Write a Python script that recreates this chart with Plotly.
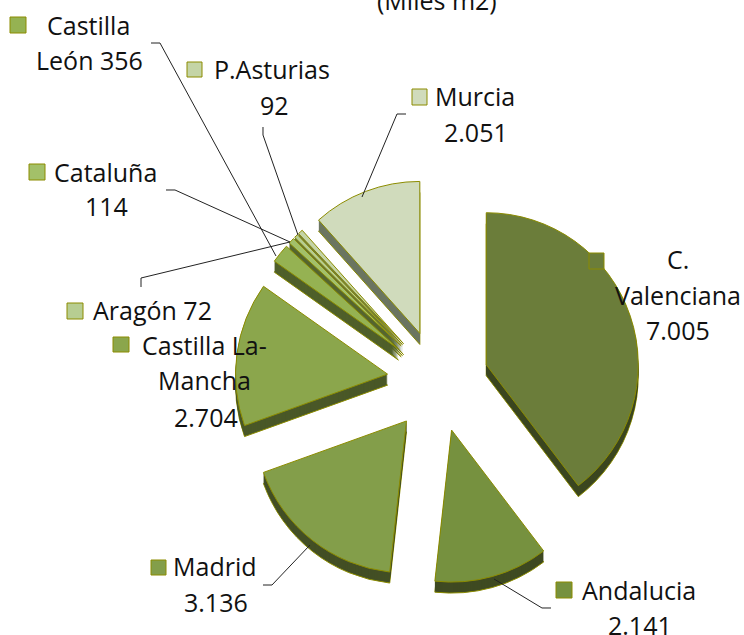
import plotly.graph_objects as go

W, H = 744, 635

regions = ["C. Valenciana", "Andalucia", "Madrid", "Castilla La-Mancha", "Castilla León",
           "Cataluña", "Aragón", "P.Asturias", "Murcia"]
values = [7005, 2141, 3136, 2704, 356, 114, 72, 92, 2051]
top_colors = ["#6B7D3A", "#76913F", "#839E4A", "#8BA64C", "#95B252",
              "#A3C069", "#B7CD92", "#C4D4A6", "#D0DBBC"]
side_colors = ["#3C4720", "#3F4A22", "#434F25", "#4A5828", "#4F5F2A",
               "#55652E", "#5F6E40", "#667550", "#6B7560"]
edge_color = "#8C8C00"

# (text, centre x px, centre y px)
text_lines = [
    ("(Miles m2)", 437, 0),
    ("Castilla", 88, 25), ("León 356", 89, 60),
    ("P.Asturias", 272, 69), ("92", 274, 105),
    ("Cataluña", 105, 172), ("114", 106, 206),
    ("Murcia", 475, 96), ("2.051", 476, 132),
    ("C.", 678, 259), ("Valenciana", 678, 295), ("7.005", 678, 330),
    ("Aragón 72", 152, 310),
    ("Castilla La-", 205, 345), ("Mancha", 205, 380), ("2.704", 206, 417),
    ("Madrid", 215, 566), ("3.136", 216, 602),
    ("Andalucia", 639, 590), ("2.141", 640, 625),
]
# legend key boxes: x0, y0, x1, y1, region index
key_boxes = [
    (589, 253, 604, 269, 0), (556, 582, 572, 598, 1), (151, 560, 166, 575, 2),
    (113, 337, 129, 352, 3), (10, 17, 26, 33, 4), (29, 164, 45, 180, 5),
    (67, 303, 83, 319, 6), (187, 62, 202, 77, 7), (412, 89, 427, 105, 8),
]
leaders = [
    [(151, 43), (160, 43), (276, 256)],
    [(263, 127), (263, 135), (298, 235)],
    [(166, 190), (175, 190), (290, 242)],
    [(141, 287), (141, 278), (290, 242)],
    [(406, 114), (397, 114), (362, 197)],
    [(263, 585), (272, 585), (310, 545)],
    [(551, 608), (542, 608), (494, 579)],
]

cx, cy, radius, pull_frac, depth = 438, 381, 152, 0.335, 11
half = radius * (1 + pull_frac)


def pie_layer(dy, colors, line_w):
    return go.Pie(
        labels=regions, values=values, sort=False, direction="clockwise", rotation=0,
        pull=[pull_frac] * len(values), textinfo="none", hoverinfo="skip", showlegend=False,
        marker=dict(colors=colors, line=dict(color=edge_color if line_w else "rgba(0,0,0,0)", width=line_w)),
        domain=dict(x=[(cx - half) / W, (cx + half) / W],
                    y=[1 - (cy + dy + half) / H, 1 - (cy + dy - half) / H]),
    )


fig = go.Figure()
fig.add_trace(pie_layer(depth, side_colors, 1))
for d in range(depth - 1, 0, -1):
    fig.add_trace(pie_layer(d, side_colors, 0))
fig.add_trace(pie_layer(0, top_colors, 1))

shapes = []
for pts in leaders:
    path = "M " + " L ".join(f"{x / W:.5f},{1 - y / H:.5f}" for x, y in pts)
    shapes.append(dict(type="path", xref="paper", yref="paper", path=path,
                       line=dict(color="#222222", width=1)))
for x0, y0, x1, y1, i in key_boxes:
    shapes.append(dict(type="rect", xref="paper", yref="paper", x0=x0 / W, x1=x1 / W,
                       y0=1 - y1 / H, y1=1 - y0 / H, fillcolor=top_colors[i],
                       line=dict(color=edge_color, width=1)))

annotations = [
    dict(text=t, x=x / W, y=1 - y / H, xref="paper", yref="paper", xanchor="center",
         yanchor="middle", showarrow=False, font=dict(family="Open Sans", size=25, color="#111111"))
    for t, x, y in text_lines
]

fig.update_layout(width=W, height=H, margin=dict(l=0, r=0, t=0, b=0), paper_bgcolor="white",
                  plot_bgcolor="white", shapes=shapes, annotations=annotations)
fig.write_html("out.html", config={"displayModeBar": False},
               post_script="document.body.style.margin='0';document.body.style.overflow='hidden';")
